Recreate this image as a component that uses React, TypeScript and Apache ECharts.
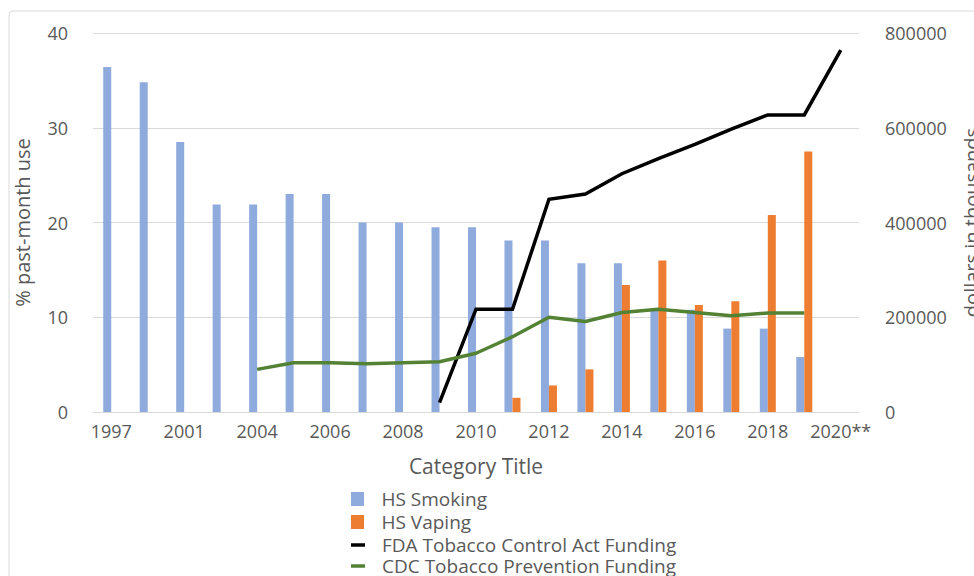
import React, { useEffect, useRef } from "react";
import * as echarts from "echarts";

const categories = ["1997", "1999", "2001", "2003", "2004", "2005", "2006", "2007", "2008", "2009", "2010", "2011", "2012", "2013", "2014", "2015", "2016", "2017", "2018", "2019", "2020**"];
const hsSmoking = [36.4, 34.8, 28.5, 21.9, 21.9, 23.0, 23.0, 20.0, 20.0, 19.5, 19.5, 18.1, 18.1, 15.7, 15.7, 10.8, 10.8, 8.8, 8.8, 5.8, null];
const hsVaping = [null, null, null, null, null, null, null, null, null, null, null, 1.5, 2.8, 4.5, 13.4, 16.0, 11.3, 11.7, 20.8, 27.5, null];
const fdaFunding = [null, null, null, null, null, null, null, null, null, 20000, 217000, 217000, 449000, 460000, 503000, 535000, 565000, 597000, 627000, 627000, 764000];
const cdcFunding = [null, null, null, null, 90000, 104000, 104000, 102000, 104000, 106000, 124000, 159000, 200000, 191000, 210000, 217000, 210000, 203000, 209000, 209000, null];
const leftTicks = { min: 0, max: 40, interval: 10 };
const rightTicks = { min: 0, max: 800000, interval: 200000 };
const legendNames = ["HS Smoking", "HS Vaping", "FDA Tobacco Control Act Funding", "CDC Tobacco Prevention Funding"];

const FONT = "'Open Sans', 'Noto Sans', sans-serif";
const TXT = "#595959";
const GRID = "#d9d9d9";
const SQUARE = "path://M0,0 L13,0 L13,14 L0,14 Z";
const DASH = "path://M0,0 L12,0 L12,3 L0,3 Z";

export default function App() {
  const ref = useRef<HTMLDivElement>(null);
  useEffect(() => {
    if (!ref.current) return;
    const chart = echarts.init(ref.current, undefined, { renderer: "svg" });
    const legendTops = [488, 511, 534, 555];
    const legendIcons = [SQUARE, SQUARE, DASH, DASH];
    chart.setOption({
      animation: false,
      backgroundColor: "#ffffff",
      textStyle: { fontFamily: FONT },
      graphic: [
        {
          type: "rect",
          shape: { x: 9, y: 11, width: 1000, height: 700, r: 4 },
          style: { fill: "none", stroke: GRID, lineWidth: 1 },
          silent: true,
        },
      ],
      grid: { left: 93, right: 115, top: 33, bottom: 164, outerBoundsMode: "none", containLabel: false },
      legend: legendNames.map((n, i) => ({
        orient: "vertical",
        left: 351,
        top: legendTops[i],
        itemWidth: 14,
        itemHeight: 14,
        itemGap: 0,
        padding: 0,
        textStyle: { color: TXT, fontSize: 19, fontFamily: FONT, lineHeight: 22, padding: [0, 0, 0, 12] },
        data: [{ name: n, icon: legendIcons[i] }],
      })),
      xAxis: {
        type: "category",
        data: categories,
        boundaryGap: true,
        name: "Category Title",
        nameLocation: "middle",
        nameGap: 43,
        nameTextStyle: { color: TXT, fontSize: 21, fontFamily: FONT },
        axisLine: { lineStyle: { color: GRID, width: 1 } },
        axisTick: { show: false },
        axisLabel: { interval: 1, color: TXT, fontSize: 18, fontFamily: FONT, margin: 10 },
      },
      yAxis: [
        {
          type: "value",
          ...leftTicks,
          name: "% past-month use",
          nameLocation: "middle",
          nameRotate: 90,
          nameGap: 61,
          nameTextStyle: { color: TXT, fontSize: 20, fontFamily: FONT },
          axisLine: { show: false },
          axisTick: { show: false },
          axisLabel: { color: TXT, fontSize: 18, fontFamily: FONT, margin: 25 },
          splitLine: { lineStyle: { color: GRID, width: 1 } },
        },
        {
          type: "value",
          ...rightTicks,
          position: "right",
          name: "dollars in thousands",
          nameLocation: "middle",
          nameRotate: 90,
          nameGap: 102,
          nameTextStyle: { color: TXT, fontSize: 20, fontFamily: FONT },
          axisLine: { show: false },
          axisTick: { show: false },
          axisLabel: { color: TXT, fontSize: 18, fontFamily: FONT, margin: 26, formatter: (v: number) => String(v) },
          splitLine: { show: false },
        },
      ],
      series: [
        {
          name: "HS Smoking",
          type: "bar",
          data: hsSmoking,
          barWidth: 8,
          barGap: "0%",
          itemStyle: { color: "#8faadc" },
        },
        {
          name: "HS Vaping",
          type: "bar",
          data: hsVaping,
          barWidth: 8,
          barGap: "0%",
          itemStyle: { color: "#ed7d31" },
        },
        {
          name: "FDA Tobacco Control Act Funding",
          type: "line",
          yAxisIndex: 1,
          data: fdaFunding,
          showSymbol: false,
          symbol: "none",
          lineStyle: { color: "#000000", width: 3.5, join: "miter" },
          itemStyle: { color: "#000000" },
        },
        {
          name: "CDC Tobacco Prevention Funding",
          type: "line",
          yAxisIndex: 1,
          data: cdcFunding,
          showSymbol: false,
          symbol: "none",
          lineStyle: { color: "#548235", width: 3.5 },
          itemStyle: { color: "#548235" },
        },
      ],
    });
    return () => chart.dispose();
  }, []);
  return (
    <div
      ref={ref}
      style={{ position: "fixed", left: 0, top: 0, width: 974, height: 576 }}
    />
  );
}
